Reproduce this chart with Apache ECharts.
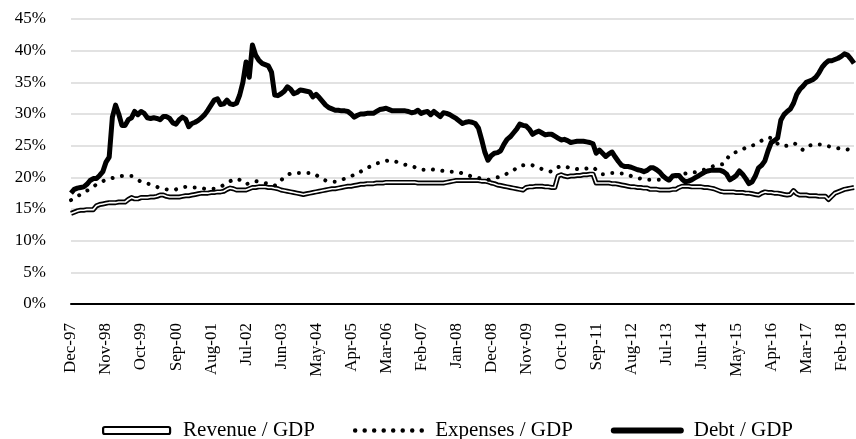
<!DOCTYPE html>
<html>
<head>
<meta charset="utf-8">
<script src="https://cdn.jsdelivr.net/npm/echarts@6/dist/echarts.min.js"></script>
<style>
  html, body { margin: 0; padding: 0; background: #fff; }
  #main { width: 856px; height: 439px; }
</style>
</head>
<body>
<div id="main"></div>
<script>
// monthly, Dec-97 .. Jun-18
var months = [
  'Dec-97',
  'Jan-98','Feb-98','Mar-98','Apr-98','May-98','Jun-98','Jul-98','Aug-98','Sep-98','Oct-98','Nov-98','Dec-98',
  'Jan-99','Feb-99','Mar-99','Apr-99','May-99','Jun-99','Jul-99','Aug-99','Sep-99','Oct-99','Nov-99','Dec-99',
  'Jan-00','Feb-00','Mar-00','Apr-00','May-00','Jun-00','Jul-00','Aug-00','Sep-00','Oct-00','Nov-00','Dec-00',
  'Jan-01','Feb-01','Mar-01','Apr-01','May-01','Jun-01','Jul-01','Aug-01','Sep-01','Oct-01','Nov-01','Dec-01',
  'Jan-02','Feb-02','Mar-02','Apr-02','May-02','Jun-02','Jul-02','Aug-02','Sep-02','Oct-02','Nov-02','Dec-02',
  'Jan-03','Feb-03','Mar-03','Apr-03','May-03','Jun-03','Jul-03','Aug-03','Sep-03','Oct-03','Nov-03','Dec-03',
  'Jan-04','Feb-04','Mar-04','Apr-04','May-04','Jun-04','Jul-04','Aug-04','Sep-04','Oct-04','Nov-04','Dec-04',
  'Jan-05','Feb-05','Mar-05','Apr-05','May-05','Jun-05','Jul-05','Aug-05','Sep-05','Oct-05','Nov-05','Dec-05',
  'Jan-06','Feb-06','Mar-06','Apr-06','May-06','Jun-06','Jul-06','Aug-06','Sep-06','Oct-06','Nov-06','Dec-06',
  'Jan-07','Feb-07','Mar-07','Apr-07','May-07','Jun-07','Jul-07','Aug-07','Sep-07','Oct-07','Nov-07','Dec-07',
  'Jan-08','Feb-08','Mar-08','Apr-08','May-08','Jun-08','Jul-08','Aug-08','Sep-08','Oct-08','Nov-08','Dec-08',
  'Jan-09','Feb-09','Mar-09','Apr-09','May-09','Jun-09','Jul-09','Aug-09','Sep-09','Oct-09','Nov-09','Dec-09',
  'Jan-10','Feb-10','Mar-10','Apr-10','May-10','Jun-10','Jul-10','Aug-10','Sep-10','Oct-10','Nov-10','Dec-10',
  'Jan-11','Feb-11','Mar-11','Apr-11','May-11','Jun-11','Jul-11','Aug-11','Sep-11','Oct-11','Nov-11','Dec-11',
  'Jan-12','Feb-12','Mar-12','Apr-12','May-12','Jun-12','Jul-12','Aug-12','Sep-12','Oct-12','Nov-12','Dec-12',
  'Jan-13','Feb-13','Mar-13','Apr-13','May-13','Jun-13','Jul-13','Aug-13','Sep-13','Oct-13','Nov-13','Dec-13',
  'Jan-14','Feb-14','Mar-14','Apr-14','May-14','Jun-14','Jul-14','Aug-14','Sep-14','Oct-14','Nov-14','Dec-14',
  'Jan-15','Feb-15','Mar-15','Apr-15','May-15','Jun-15','Jul-15','Aug-15','Sep-15','Oct-15','Nov-15','Dec-15',
  'Jan-16','Feb-16','Mar-16','Apr-16','May-16','Jun-16','Jul-16','Aug-16','Sep-16','Oct-16','Nov-16','Dec-16',
  'Jan-17','Feb-17','Mar-17','Apr-17','May-17','Jun-17','Jul-17','Aug-17','Sep-17','Oct-17','Nov-17','Dec-17',
  'Jan-18','Feb-18','Mar-18','Apr-18','May-18','Jun-18'
];

// % of GDP
var revenue = [
  14.3,
  14.5,14.7,14.8,14.8,14.9,14.9,14.9,15.5,15.7,15.8,15.9,16.0,
  16.0,16.0,16.1,16.1,16.1,16.5,16.8,16.6,16.6,16.8,16.8,16.8,
  16.9,16.9,17.0,17.2,17.2,17.0,16.9,16.9,16.9,16.9,17.0,17.1,
  17.1,17.2,17.3,17.4,17.5,17.5,17.5,17.6,17.6,17.7,17.7,17.8,
  18.1,18.3,18.2,18.0,18.0,18.0,18.0,18.2,18.4,18.4,18.5,18.5,
  18.5,18.4,18.4,18.3,18.2,18.0,17.9,17.8,17.7,17.6,17.5,17.4,
  17.3,17.4,17.5,17.6,17.7,17.8,17.9,18.0,18.1,18.2,18.2,18.3,
  18.4,18.5,18.6,18.6,18.7,18.8,18.9,18.9,19.0,19.0,19.0,19.1,
  19.1,19.1,19.2,19.2,19.2,19.2,19.2,19.2,19.2,19.2,19.2,19.2,
  19.1,19.1,19.1,19.1,19.1,19.1,19.1,19.1,19.1,19.2,19.3,19.4,
  19.5,19.5,19.5,19.5,19.5,19.5,19.5,19.5,19.4,19.4,19.3,19.1,
  19.0,18.8,18.7,18.6,18.5,18.4,18.3,18.2,18.1,18.0,18.4,18.5,
  18.5,18.6,18.6,18.6,18.5,18.5,18.4,18.4,20.2,20.4,20.2,20.1,
  20.2,20.2,20.3,20.3,20.4,20.4,20.5,20.5,19.1,19.1,19.1,19.1,
  19.1,19.0,19.0,18.9,18.8,18.7,18.6,18.5,18.5,18.4,18.4,18.3,
  18.3,18.1,18.1,18.1,18.0,18.0,18.0,18.0,18.1,18.1,18.4,18.6,
  18.6,18.6,18.5,18.5,18.5,18.5,18.4,18.4,18.3,18.2,18.0,17.8,
  17.7,17.7,17.7,17.7,17.6,17.6,17.6,17.5,17.5,17.4,17.3,17.2,
  17.5,17.7,17.6,17.6,17.5,17.5,17.4,17.3,17.2,17.3,17.9,17.4,
  17.2,17.2,17.2,17.1,17.1,17.1,17.0,17.0,17.0,16.5,17.0,17.5,
  17.7,17.9,18.1,18.2,18.3,18.4
];

var expenses = [
  16.4,
  16.7,17.0,17.3,17.6,17.9,18.1,18.5,18.9,19.2,19.4,19.6,19.8,
  19.9,20.0,20.1,20.2,20.2,20.2,20.2,19.9,19.6,19.3,19.2,19.0,
  18.9,18.7,18.5,18.3,18.2,18.1,18.0,18.0,18.1,18.3,18.4,18.5,
  18.5,18.4,18.4,18.3,18.3,18.2,18.2,18.2,18.2,18.3,18.5,18.8,
  19.1,19.4,19.6,19.8,19.6,19.2,18.9,19.1,19.3,19.4,19.3,19.2,
  19.1,19.0,18.8,18.7,18.9,19.5,20.1,20.4,20.6,20.7,20.7,20.7,
  20.7,20.7,20.7,20.7,20.4,20.0,19.7,19.5,19.4,19.3,19.3,19.4,
  19.6,19.8,20.0,20.2,20.4,20.5,20.9,21.2,21.5,21.7,22.0,22.2,
  22.3,22.5,22.6,22.7,22.6,22.5,22.3,22.2,22.0,21.9,21.8,21.6,
  21.4,21.2,21.2,21.3,21.3,21.2,21.1,21.1,21.0,21.0,20.9,20.9,
  20.9,20.8,20.6,20.4,20.3,20.1,20.0,19.9,19.8,19.7,19.6,19.7,
  19.8,20.0,20.1,20.3,20.6,20.8,21.1,21.5,21.8,21.9,22.0,22.0,
  21.9,21.7,21.5,21.3,21.2,21.0,20.9,21.2,21.6,21.8,21.7,21.6,
  21.4,21.4,21.3,21.3,21.3,21.4,21.5,21.6,21.2,20.7,20.5,20.5,
  20.6,20.7,20.7,20.7,20.6,20.6,20.4,20.2,20.0,19.9,19.8,19.7,
  19.6,19.6,19.6,19.6,19.6,19.5,19.5,19.5,19.8,20.1,20.4,20.6,
  20.6,20.7,20.7,20.8,21.0,21.1,21.2,21.4,21.6,21.8,21.9,22.0,
  22.1,22.8,23.6,23.8,24.0,24.2,24.4,24.7,24.9,25.0,25.2,25.5,
  25.8,26.1,26.3,26.2,25.8,25.3,25.0,24.9,25.0,25.2,25.4,25.2,
  24.7,24.3,24.6,25.0,25.2,25.2,25.2,25.2,25.1,24.9,24.8,24.7,
  24.6,24.5,24.4,24.4,24.3,24.3
];

var debt = [
  17.5,
  18.1,18.3,18.4,18.5,18.9,19.5,19.8,19.8,20.3,20.9,22.4,23.2,
  29.5,31.4,30.0,28.2,28.2,29.1,29.4,30.4,29.9,30.4,30.1,29.4,
  29.3,29.4,29.3,29.1,29.6,29.6,29.3,28.6,28.4,29.1,29.5,29.2,
  28.0,28.5,28.7,29.0,29.4,29.9,30.6,31.4,32.2,32.4,31.5,31.6,
  32.2,31.6,31.5,31.7,33.0,35.0,38.2,35.8,40.9,39.3,38.5,38.0,
  37.8,37.6,36.6,33.0,32.9,33.2,33.6,34.3,33.9,33.2,33.4,33.8,
  33.7,33.6,33.5,32.7,33.1,32.6,32.0,31.4,31.0,30.8,30.6,30.6,
  30.5,30.5,30.4,30.0,29.5,29.8,30.0,30.0,30.1,30.1,30.1,30.4,
  30.7,30.8,30.9,30.7,30.5,30.5,30.5,30.5,30.5,30.4,30.2,30.3,
  30.6,30.1,30.3,30.4,29.9,30.4,30.0,29.6,30.2,30.1,29.9,29.6,
  29.3,28.9,28.5,28.7,28.8,28.7,28.5,27.8,26.0,24.0,22.7,23.4,
  23.8,23.9,24.2,25.2,26.0,26.4,27.0,27.6,28.4,28.2,28.1,27.6,
  26.8,27.1,27.3,27.0,26.7,26.8,26.8,26.5,26.2,25.9,26.0,25.8,
  25.5,25.6,25.7,25.7,25.7,25.6,25.5,25.3,23.8,24.3,23.8,23.3,
  23.7,24.0,23.2,22.5,21.9,21.7,21.7,21.6,21.4,21.2,21.1,20.9,
  21.1,21.5,21.5,21.2,20.8,20.2,19.8,19.6,20.2,20.3,20.3,19.7,
  19.3,19.4,19.6,19.9,20.2,20.5,20.8,21.0,21.1,21.1,21.1,21.1,
  20.9,20.5,19.6,19.9,20.3,21.0,20.5,19.8,19.0,19.3,20.2,21.5,
  21.9,22.6,24.2,25.5,25.8,26.2,29.0,29.9,30.4,30.8,31.7,33.1,
  33.9,34.4,35.0,35.2,35.4,35.8,36.5,37.4,38.0,38.4,38.4,38.6,
  38.8,39.1,39.5,39.3,38.7,38.0
];

var yTicks = [0, 5, 10, 15, 20, 25, 30, 35, 40, 45];

var font = "'Liberation Serif', 'Times New Roman', serif";
var dots = [0.01, 9.5];
var noSymbol = { color: 'rgba(0,0,0,0)', borderWidth: 0 };

var myChart = echarts.init(document.getElementById('main'));
myChart.setOption({
    animation: false,
    textStyle: { fontFamily: font, color: '#000' },
    grid: { left: 71, right: 2, top: 19, bottom: 135 },
    legend: {
        left: 97,
        top: 415,
        itemGap: 38,
        itemWidth: 67,
        itemHeight: 7,
        textStyle: { fontFamily: font, fontSize: 21, color: '#000', padding: [0, 0, 0, 8] },
        data: [
            { name: 'Revenue / GDP', icon: 'roundRect',
              itemStyle: { color: '#fff', borderColor: '#000', borderWidth: 2.2 } },
            { name: 'Expenses / GDP', itemStyle: noSymbol,
              lineStyle: { width: 4.5, type: dots, cap: 'round', color: '#000' } },
            { name: 'Debt / GDP', itemStyle: noSymbol,
              lineStyle: { width: 6, cap: 'round', color: '#000' } }
        ]
    },
    xAxis: {
        type: 'category',
        data: months,
        boundaryGap: false,
        axisLine: { lineStyle: { color: '#000', width: 2 } },
        axisTick: { show: false },
        axisLabel: {
            interval: 10,
            rotate: 90,
            margin: 19,
            fontSize: 17,
            color: '#000',
            fontFamily: font
        }
    },
    yAxis: {
        type: 'value',
        min: yTicks[0],
        max: yTicks[yTicks.length - 1],
        interval: 5,
        axisLine: { show: false },
        axisTick: { show: false },
        splitLine: { lineStyle: { color: '#d9d9d9', width: 1.5 } },
        axisLabel: {
            margin: 25,
            fontSize: 17,
            color: '#000',
            fontFamily: font,
            formatter: '{value}%'
        }
    },
    series: [
        {
            name: 'Revenue / GDP',
            type: 'line',
            data: revenue,
            symbol: 'none',
            lineStyle: { color: '#000', width: 5, join: 'round' },
            itemStyle: { color: '#000' },
            z: 2
        },
        {
            name: 'revenue-inner',
            type: 'line',
            data: revenue,
            symbol: 'none',
            lineStyle: { color: '#fff', width: 1.6, join: 'round' },
            z: 3
        },
        {
            name: 'Expenses / GDP',
            type: 'line',
            data: expenses,
            symbol: 'none',
            lineStyle: { color: '#000', width: 4, type: dots, cap: 'round' },
            itemStyle: { color: '#000' },
            z: 4
        },
        {
            name: 'Debt / GDP',
            type: 'line',
            data: debt,
            symbol: 'none',
            lineStyle: { color: '#000', width: 5, join: 'round' },
            itemStyle: { color: '#000' },
            z: 5
        }
    ]
});
</script>
</body>
</html>
